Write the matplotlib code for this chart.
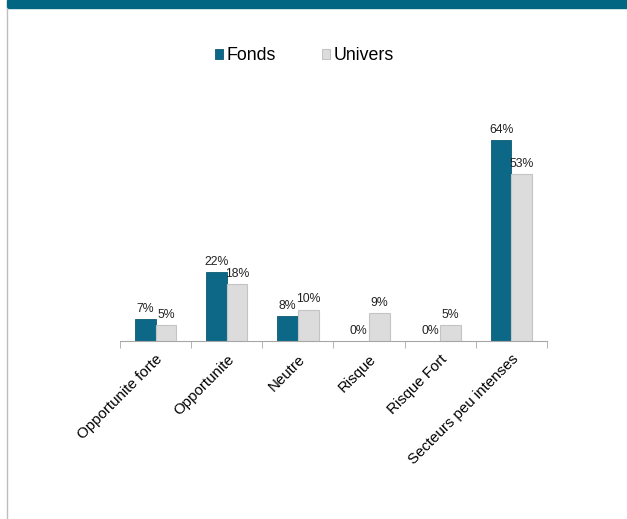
import numpy as np
import matplotlib.pyplot as plt
from matplotlib.patches import Rectangle
from matplotlib.lines import Line2D

plt.rcParams['font.family'] = ['Liberation Sans', 'DejaVu Sans']

# donnees
categories = ['Opportunite forte', 'Opportunite', 'Neutre', 'Risque',
              'Risque Fort', 'Secteurs peu intenses']
fonds = [7, 22, 8, 0, 0, 64]
univers = [5, 18, 10, 9, 5, 53]

couleur_fonds = '#0C6886'
couleur_univers = '#DCDCDC'

fig = plt.figure(figsize=(6.27, 5.19), dpi=100)

# bandeau du titre (texte coupe en haut) et bord gauche
fig.patches.append(Rectangle((7/627, 1-8/519), 1, 8/519, transform=fig.transFigure,
                             color='#006682', zorder=0))
fig.lines.append(Line2D([7/627, 7/627], [0, 1-8/519], transform=fig.transFigure,
                        color='#BDBDBD', lw=1))

ax = fig.add_axes([120/627, 1-341/519, 427/627, 220/519])

x = np.arange(len(categories))
w = 0.29
b1 = ax.bar(x - w/2, fonds, w, color=couleur_fonds, edgecolor='#0A5A74',
            lw=0.6, label='Fonds', zorder=2)
b2 = ax.bar(x + w/2, univers, w, color=couleur_univers, edgecolor='#C4C4C4',
            lw=0.8, label='Univers', zorder=2)

for rects, vals in [(b1, fonds), (b2, univers)]:
    for r, v in zip(rects, vals):
        ax.text(r.get_x() + r.get_width()/2, v + 1.3, '%d%%' % v,
                ha='center', va='bottom', fontsize=8.8, color='#222222')

ax.set_xlim(-0.5, len(categories) - 0.5)
ax.set_ylim(0, 70)
ax.set_yticks([])
for s in ['top', 'right', 'left']:
    ax.spines[s].set_visible(False)
ax.spines['bottom'].set_color('#A6A6A6')

ax.set_xticks(x)
ax.set_xticklabels(categories, rotation=45, ha='right', rotation_mode='anchor',
                   fontsize=10.8)
ax.tick_params(axis='x', which='major', length=0, pad=8)
ax.set_xticks(np.arange(len(categories) + 1) - 0.5, minor=True)
ax.tick_params(axis='x', which='minor', length=5, color='#A6A6A6')

fig.legend(handles=[b1, b2], labels=['Fonds', 'Univers'], loc='center',
           bbox_to_anchor=(304/627, 1-56/519), ncol=2, frameon=False,
           fontsize=12.8, handlelength=0.45, handleheight=0.45, handletextpad=0.2,
           columnspacing=2.6)

fig.savefig('out.png', dpi=100)
